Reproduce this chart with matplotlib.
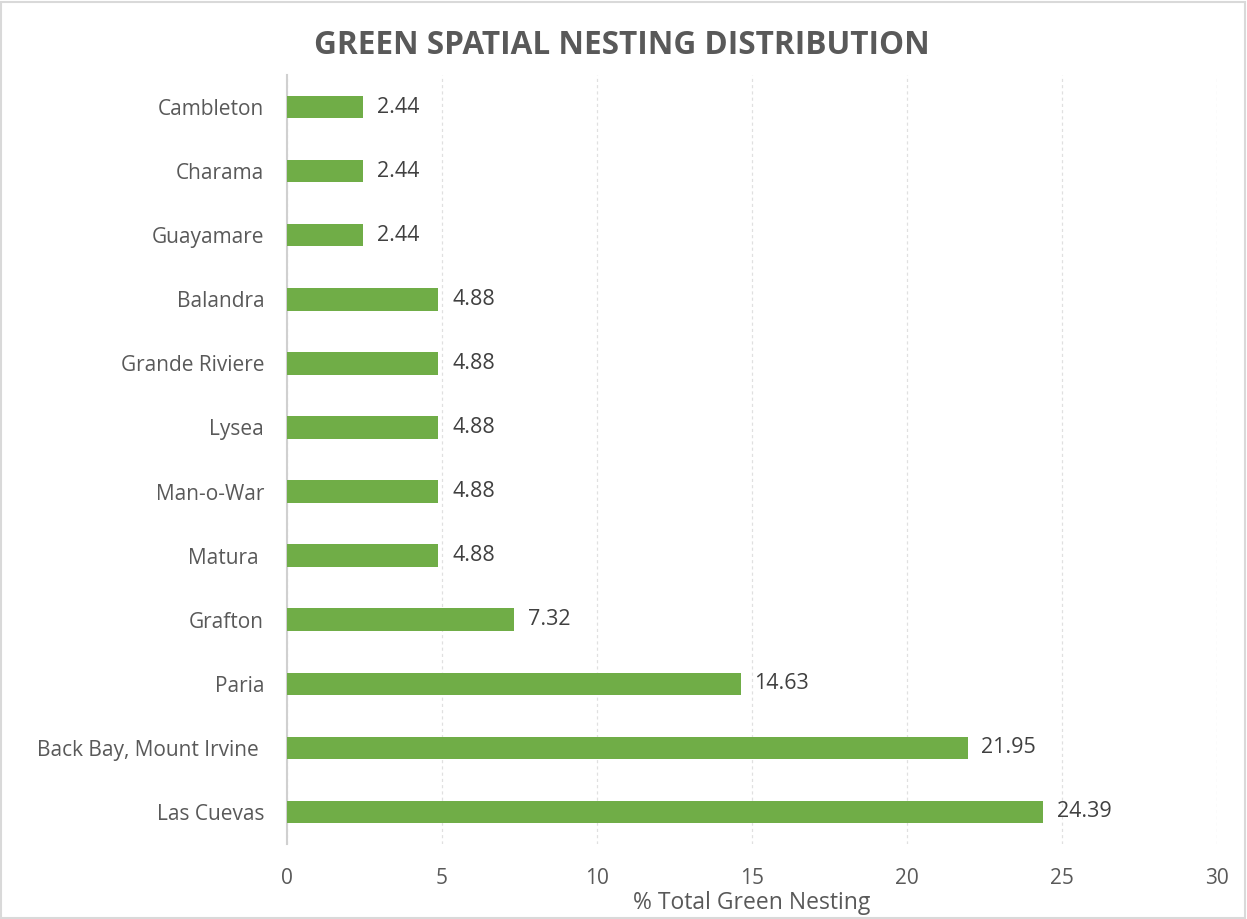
import matplotlib.pyplot as plt
from matplotlib.patches import Rectangle

# nesting share per beach, top to bottom
sites = ['Cambleton', 'Charama', 'Guayamare', 'Balandra', 'Grande Riviere',
         'Lysea', 'Man-o-War', 'Matura ', 'Grafton', 'Paria',
         'Back Bay, Mount Irvine ', 'Las Cuevas']
share = [2.44, 2.44, 2.44, 4.88, 4.88, 4.88, 4.88, 4.88, 7.32, 14.63, 21.95, 24.39]
xticks = [0, 5, 10, 15, 20, 25, 30]

plt.rcParams['font.family'] = ['Open Sans', 'DejaVu Sans']

fig = plt.figure(figsize=(12.47, 9.19), dpi=100)
ax = fig.add_axes([0.2302, 0.0816, 0.7458, 0.8368])

ypos = list(range(len(sites)))[::-1]
bars = ax.barh(ypos, share, height=0.35, color='#70AD47', zorder=3)
for y, v in zip(ypos, share):
    ax.text(v + 0.45, y, f'{v:.2f}', va='center', ha='left',
            fontsize=15.5, color='#404040')

ax.set_ylim(-0.5, len(sites) - 0.5)
ax.set_xlim(0, 30)
ax.set_xticks(xticks)
ax.set_yticks(ypos)
ax.set_yticklabels(sites)
ax.tick_params(axis='both', length=0, labelsize=15, colors='#595959')
ax.tick_params(axis='x', pad=17)
ax.tick_params(axis='y', pad=16.5)

ax.grid(axis='x', color='#E0E0E0', linestyle=(0, (2.5, 2.5)), linewidth=0.9, zorder=0)
for s in ['top', 'right', 'bottom']:
    ax.spines[s].set_visible(False)
ax.spines['left'].set_color('#D0D0D0')
ax.spines['left'].set_linewidth(1.5)

ax.set_xlabel('% Total Green Nesting', fontsize=16.5, color='#595959', labelpad=2)
fig.text(0.4985, 0.951, 'GREEN SPATIAL NESTING DISTRIBUTION', ha='center', va='center',
         fontsize=22.7, fontweight='bold', color='#595959')

fig.patches.append(Rectangle((0.001, 0.001), 0.997, 0.997, transform=fig.transFigure,
                             fill=False, edgecolor='#D9D9D9', linewidth=1.5))

plt.savefig('out.png')
